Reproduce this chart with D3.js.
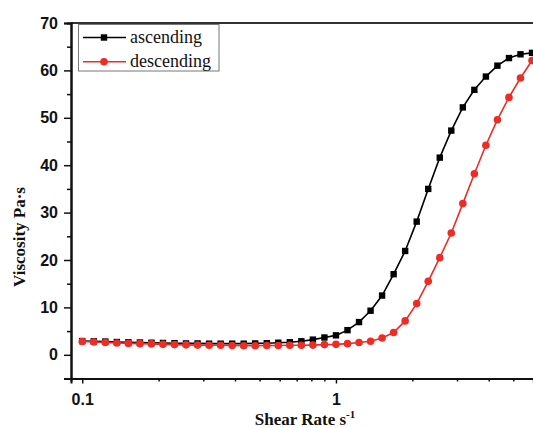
<!DOCTYPE html>
<html><head><meta charset="utf-8">
<script src="https://cdn.jsdelivr.net/npm/d3@7"></script>
<style>
html,body{margin:0;padding:0;background:#fff;}
svg{display:block;}
.tick text{font-family:"Liberation Sans",Arial,sans-serif;font-weight:bold;font-size:16px;fill:#111;}
</style></head>
<body><svg id="c" width="533" height="428"></svg>
<script>
const shearRate = [0.1,0.1110,0.1233,0.1369,0.1520,0.1688,0.1874,0.2081,0.2310,0.2565,
  0.2848,0.3162,0.3511,0.3899,0.4329,0.4806,0.5337,0.5926,0.6579,0.7305,
  0.8111,0.9006,1.0,1.1103,1.2328,1.3688,1.5199,1.6876,1.8738,2.0806,
  2.3101,2.5650,2.8480,3.1623,3.5112,3.8986,4.3288,4.8064,5.3367,5.9255];
const ascending = [2.9,2.85,2.8,2.7,2.65,2.6,2.55,2.5,2.45,2.4,
  2.4,2.35,2.35,2.35,2.35,2.4,2.45,2.55,2.65,2.85,
  3.2,3.65,4.1,5.2,6.9,9.3,12.5,17.0,21.9,28.1,
  35.0,41.6,47.3,52.2,55.9,58.7,61.0,62.6,63.4,63.7];
const descending = [2.8,2.7,2.6,2.5,2.4,2.35,2.3,2.2,2.15,2.1,
  2.05,2.0,2.0,1.95,1.9,1.9,1.95,1.95,2.0,2.0,
  2.05,2.15,2.2,2.35,2.6,2.85,3.55,4.7,7.15,10.8,
  15.5,20.5,25.7,31.9,38.2,44.2,49.6,54.3,58.4,62.1];
const yMajorTicks = [0,10,20,30,40,50,60,70];
const yMinorTicks = [-5,5,15,25,35,45,55,65];
const xMajorTicks = [0.1,1];
const xMinorTicks = [0.2,0.3,0.4,0.5,0.6,0.7,0.8,0.9,2,3,4,5,6];
const seriesNames = ["ascending","descending"];
const seriesColors = ["#000000","#ee2c26"];

const svg = d3.select("#c");
const L = 71, R = 533.4, T = 23, B = 378.5;
const x = d3.scaleLog().domain([0.0903, 6.0]).range([L, R]);
const y = d3.scaleLinear().domain([-5, 70]).range([B, T]);

// clip
svg.append("clipPath").attr("id","clip").append("rect")
  .attr("x", L).attr("y", T-6).attr("width", 540-L).attr("height", B-T+6);

// top frame line
svg.append("line").attr("x1", L).attr("x2", 540).attr("y1", T).attr("y2", T)
  .attr("stroke", "#333").attr("stroke-width", 2);

// y axis
const yAx = svg.append("g").attr("transform", `translate(${L},0)`)
  .call(d3.axisLeft(y).tickValues(yMajorTicks).tickSize(7).tickPadding(6).tickFormat(d3.format("d")));
svg.append("g").attr("transform", `translate(${L},0)`)
  .call(d3.axisLeft(y).tickValues(yMinorTicks).tickSize(4).tickFormat(""));
// x axis
svg.append("g").attr("transform", `translate(0,${B})`)
  .call(d3.axisBottom(x).tickValues(xMajorTicks).tickSize(5).tickPadding(10).tickFormat(d => String(d)));
svg.append("g").attr("transform", `translate(0,${B})`)
  .call(d3.axisBottom(x).tickValues(xMinorTicks).tickSize(3).tickFormat(""));
svg.selectAll(".domain").attr("stroke", "#111").attr("stroke-width", 2);
svg.selectAll(".tick line").attr("stroke", "#111").attr("stroke-width", 1.5);

// series
const plot = svg.append("g").attr("clip-path", "url(#clip)");
const allSeries = [ascending, descending];
allSeries.forEach((vals, i) => {
  const pts = shearRate.map((s, j) => [s, vals[j]]);
  const line = d3.line().x(d => x(d[0])).y(d => y(d[1]));
  plot.append("path").datum(pts).attr("d", line).attr("fill", "none")
    .attr("stroke", seriesColors[i]).attr("stroke-width", 1.6);
  if (i === 0) {
    plot.selectAll(".sq").data(pts).enter().append("rect")
      .attr("x", d => x(d[0]) - 3.2).attr("y", d => y(d[1]) - 3.2)
      .attr("width", 6.4).attr("height", 6.4).attr("fill", seriesColors[i]);
  } else {
    plot.selectAll(".ci").data(pts).enter().append("circle")
      .attr("cx", d => x(d[0])).attr("cy", d => y(d[1])).attr("r", 3.8)
      .attr("fill", seriesColors[i]);
  }
});

// legend
const lg = svg.append("g");
lg.append("rect").attr("x", 78.5).attr("y", 24.5).attr("width", 140.5).attr("height", 46.5)
  .attr("fill", "#fff").attr("stroke", "#777").attr("stroke-width", 1);
seriesNames.forEach((name, i) => {
  const cy = 37.5 + i * 24.3;
  lg.append("line").attr("x1", 83).attr("x2", 126).attr("y1", cy).attr("y2", cy)
    .attr("stroke", seriesColors[i]).attr("stroke-width", 1.6);
  if (i === 0) lg.append("rect").attr("x", 104 - 3.2).attr("y", cy - 3.2).attr("width", 6.4).attr("height", 6.4).attr("fill", seriesColors[i]);
  else lg.append("circle").attr("cx", 104).attr("cy", cy).attr("r", 3.8).attr("fill", seriesColors[i]);
  lg.append("text").attr("x", 130).attr("y", cy + 5.5).text(name)
    .attr("font-family", "'Liberation Serif','Times New Roman',serif").attr("font-size", 18).attr("fill", "#111");
});

// axis titles
const xt = svg.append("text").attr("x", 305).attr("y", 425).attr("text-anchor", "middle")
  .attr("font-family", "'Liberation Serif','Times New Roman',serif").attr("font-weight", "bold")
  .attr("font-size", 17).attr("fill", "#111");
xt.append("tspan").text("Shear Rate s");
xt.append("tspan").attr("dy", -7).attr("font-size", 11).text("-1");

svg.append("text").attr("transform", "translate(25,237) rotate(-90)").attr("text-anchor", "middle")
  .attr("font-family", "'Liberation Serif','Times New Roman',serif").attr("font-weight", "bold")
  .attr("font-size", 17).attr("fill", "#111").text("Viscosity Pa·s");
</script></body></html>
